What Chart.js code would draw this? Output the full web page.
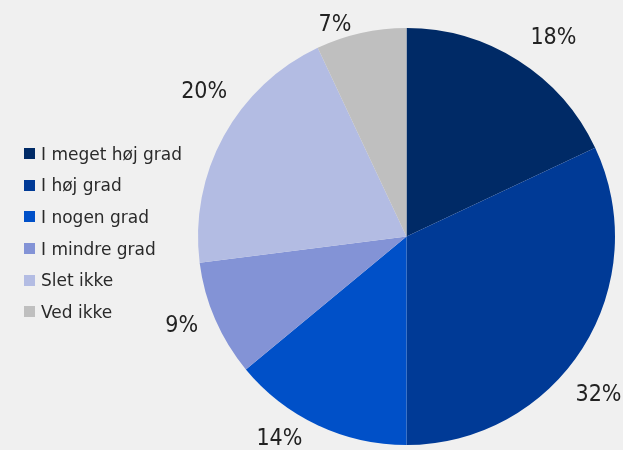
<!DOCTYPE html>
<html>
<head>
<meta charset="utf-8">
<script src="https://cdn.jsdelivr.net/npm/chart.js@4/dist/chart.umd.min.js"></script>
<style>
  html, body { margin: 0; padding: 0; background: #f0f0f0; }
  #wrap { position: relative; width: 623px; height: 450px; }
  #legend {
    position: absolute; left: 24px; top: 138px;
    font-family: "DejaVu Sans", sans-serif;
    font-size: 17px; color: #2a2a2a;
  }
  #legend .item { display: flex; align-items: center; height: 31.6px; white-space: nowrap; }
  #legend .box { width: 11px; height: 11px; margin-right: 6px; flex: none; }
</style>
</head>
<body>
<div id="wrap">
  <canvas id="pie" width="623" height="450"></canvas>
  <div id="legend"></div>
</div>
<script>
// answer shares in percent, clockwise from 12 o'clock
const categories = ["I meget høj grad", "I høj grad", "I nogen grad", "I mindre grad", "Slet ikke", "Ved ikke"];
const shares = [18, 32, 14, 9, 20, 7];
const colors = ["#002a66", "#003a96", "#0050c8", "#8393d6", "#b3bce3", "#bfbfbf"];

// per slice: [angle shift in degrees, gap beyond the rim in px] for the % labels
const labelNudge = [[4, 39], [7, 40], [7, 30], [2, 33], [7, 41], [-6, 16]];

const legendEl = document.getElementById("legend");
categories.forEach((name, i) => {
  const row = document.createElement("div");
  row.className = "item";
  row.innerHTML = `<span class="box" style="background:${colors[i]}"></span><span>${name}</span>`;
  legendEl.appendChild(row);
});

const pctLabels = {
  id: "pctLabels",
  afterDatasetsDraw(chart) {
    const { ctx } = chart;
    const arcs = chart.getDatasetMeta(0).data;
    ctx.save();
    ctx.font = '23px "DejaVu Sans Condensed", "DejaVu Sans", sans-serif';
    ctx.fillStyle = "#222";
    ctx.textAlign = "center";
    ctx.textBaseline = "middle";
    arcs.forEach((arc, i) => {
      const { x, y, startAngle, endAngle, outerRadius } = arc.getProps(["x", "y", "startAngle", "endAngle", "outerRadius"], true);
      const [shift, gap] = labelNudge[i];
      const mid = (startAngle + endAngle) / 2 + shift * Math.PI / 180;
      const r = outerRadius + gap;
      ctx.fillText(shares[i] + "%", x + Math.cos(mid) * r, y + Math.sin(mid) * r + 1);
    });
    ctx.restore();
  }
};

new Chart(document.getElementById("pie"), {
  type: "pie",
  data: {
    labels: categories,
    datasets: [{
      data: shares,
      backgroundColor: colors,
      borderWidth: 0
    }]
  },
  options: {
    responsive: false,
    animation: false,
    layout: { padding: { left: 198, right: 8, top: 28, bottom: 5 } },
    plugins: {
      legend: { display: false },
      tooltip: { enabled: false }
    }
  },
  plugins: [pctLabels]
});
</script>
</body>
</html>
